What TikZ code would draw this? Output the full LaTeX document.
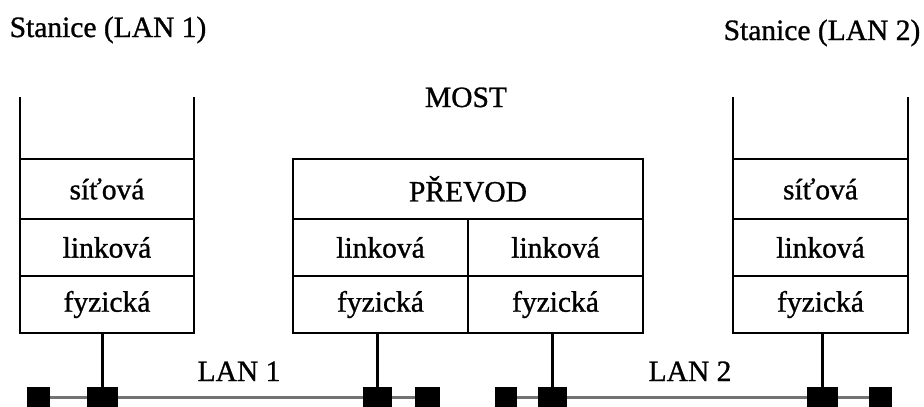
\documentclass[tikz,border=0pt]{standalone}
\usepackage{fontspec}
\setmainfont{Liberation Serif}
\newfontfamily\heavyserif{Liberation Serif}[FakeBold=1]
\newcommand{\mytxt}{\heavyserif\fontsize{29.5}{32}\selectfont}
\begin{document}
\begin{tikzpicture}[x=1pt,y=-1pt,
  txt/.style={font=\mytxt, inner sep=0pt},
  cell/.style={draw=black, line width=2.5pt, inner sep=0pt, outer sep=0pt, font=\mytxt},
  stackwall/.style={draw=black, line width=2.5pt},
  stem/.style={draw=black, line width=2.5pt},
  bus/.style={draw=black!55, line width=3pt},
  port/.style={fill=black, draw=none, inner sep=0pt, outer sep=0pt, minimum height=20pt},
]
\useasboundingbox (0,0) rectangle (924,407);

% labels
\node[txt, anchor=base] (st1) at (108,37) {Stanice (LAN 1)};
\node[txt, anchor=base] (st2) at (822,40) {Stanice (LAN 2)};
\node[txt, anchor=base] (most) at (466,107) {MOST};
\node[txt, anchor=base] (lan1) at (239,381) {LAN 1};
\node[txt, anchor=base] (lan2) at (690,381) {LAN 2};

% left stack
\node[cell, minimum width=174pt, minimum height=60pt] (ls) at (107,189) {síťová};
\node[cell, minimum width=174pt, minimum height=57pt] (ll) at (107,247.5) {linková};
\node[cell, minimum width=174pt, minimum height=57pt] (lf) at (107,304.5) {fyzická};
\coordinate (lt1) at (20,97);
\coordinate (lt2) at (194,97);
\draw[stackwall] (lt1) -- (ls.north west);
\draw[stackwall] (lt2) -- (ls.north east);

% bridge
\node[cell, minimum width=350pt, minimum height=60pt] (bp) at (468,189) {PŘEVOD};
\node[cell, minimum width=175pt, minimum height=57pt] (bll) at (380.5,247.5) {linková};
\node[cell, minimum width=175pt, minimum height=57pt] (bfl) at (380.5,304.5) {fyzická};
\node[cell, minimum width=175pt, minimum height=57pt] (blr) at (555.5,247.5) {linková};
\node[cell, minimum width=175pt, minimum height=57pt] (bfr) at (555.5,304.5) {fyzická};

% right stack
\node[cell, minimum width=175pt, minimum height=60pt] (rs) at (820.5,189) {síťová};
\node[cell, minimum width=175pt, minimum height=57pt] (rl) at (820.5,247.5) {linková};
\node[cell, minimum width=175pt, minimum height=57pt] (rf) at (820.5,304.5) {fyzická};
\coordinate (rt1) at (733,97);
\coordinate (rt2) at (908,97);
\draw[stackwall] (rt1) -- (rs.north west);
\draw[stackwall] (rt2) -- (rs.north east);

% bus ports
\node[port, minimum width=23pt] (p1) at (38.5,397) {};
\node[port, minimum width=31pt] (p2) at (102.5,397) {};
\node[port, minimum width=29pt] (p3) at (377.5,397) {};
\node[port, minimum width=25pt] (p4) at (427.5,397) {};
\node[port, minimum width=22pt] (p5) at (506,397) {};
\node[port, minimum width=29pt] (p6) at (552.5,397) {};
\node[port, minimum width=31pt] (p7) at (822.5,397) {};
\node[port, minimum width=23pt] (p8) at (880.5,397) {};

% bus lines
\draw[bus] (p1.east) -- (p2.west);
\draw[bus] (p2.east) -- (p3.west);
\draw[bus] (p3.east) -- (p4.west);
\draw[bus] (p5.east) -- (p6.west);
\draw[bus] (p6.east) -- (p7.west);
\draw[bus] (p7.east) -- (p8.west);

% stems
\draw[stem] (lf.south -| p2) -- (p2.north);
\draw[stem] (bfl.south -| p3) -- (p3.north);
\draw[stem] (bfr.south -| p6) -- (p6.north);
\draw[stem] (rf.south -| p7) -- (p7.north);
\end{tikzpicture}
\end{document}
